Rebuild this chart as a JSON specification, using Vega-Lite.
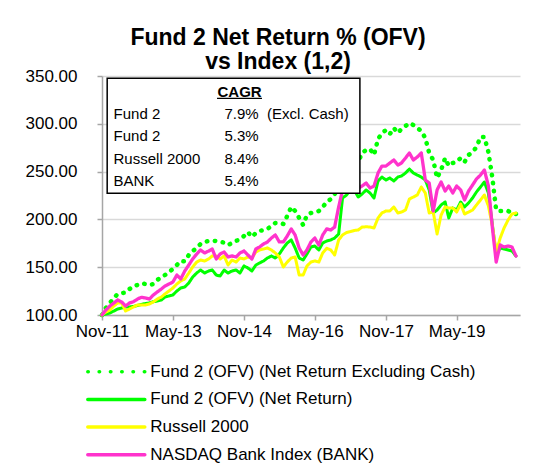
{
  "$schema": "https://vega.github.io/schema/vega-lite/v6.json",
  "width": 418,
  "height": 239,
  "autosize": {"type": "none"},
  "padding": {"left": 102, "top": 76, "right": 36, "bottom": 148},
  "background": "white",
  "title": {
    "text": ["Fund 2 Net Return % (OFV)", "vs Index (1,2)"],
    "anchor": "middle",
    "dx": -33,
    "offset": -7,
    "fontSize": 23,
    "fontWeight": "bold",
    "font": "Liberation Sans",
    "color": "black",
    "lineHeight": 24
  },
  "layer": [
    {
      "data": {
        "values": [
          {"d": "2011-11-01", "X": 100, "F": 100, "R": 100, "B": 100},
          {"d": "2011-12-01", "X": 107.3, "F": 101.0, "R": 103.1, "B": 105.2},
          {"d": "2012-01-01", "X": 112.6, "F": 102.1, "R": 105.2, "B": 109.4},
          {"d": "2012-02-01", "X": 117.8, "F": 104.2, "R": 109.4, "B": 112.6},
          {"d": "2012-03-01", "X": 122.0, "F": 106.3, "R": 112.6, "B": 115.7},
          {"d": "2012-04-01", "X": 123.0, "F": 107.3, "R": 112.6, "B": 113.6},
          {"d": "2012-05-01", "X": 123.3, "F": 108.4, "R": 104.2, "B": 109.4},
          {"d": "2012-06-01", "X": 127.2, "F": 108.4, "R": 106.3, "B": 112.6},
          {"d": "2012-07-01", "X": 130.3, "F": 108.9, "R": 108.4, "B": 113.9},
          {"d": "2012-08-01", "X": 131.4, "F": 109.9, "R": 110.5, "B": 116.7},
          {"d": "2012-09-01", "X": 133.2, "F": 111.0, "R": 110.5, "B": 118.5},
          {"d": "2012-10-01", "X": 132.4, "F": 112.0, "R": 110.5, "B": 117.8},
          {"d": "2012-11-01", "X": 131.4, "F": 112.6, "R": 111.5, "B": 116.7},
          {"d": "2012-12-01", "X": 132.4, "F": 113.9, "R": 113.6, "B": 120.9},
          {"d": "2013-01-01", "X": 136.6, "F": 114.6, "R": 116.7, "B": 124.1},
          {"d": "2013-02-01", "X": 139.7, "F": 115.7, "R": 118.8, "B": 127.2},
          {"d": "2013-03-01", "X": 141.8, "F": 118.8, "R": 122.0, "B": 130.3},
          {"d": "2013-04-01", "X": 145.0, "F": 119.9, "R": 125.1, "B": 132.4},
          {"d": "2013-05-01", "X": 148.1, "F": 120.9, "R": 128.2, "B": 134.5},
          {"d": "2013-06-01", "X": 152.3, "F": 125.1, "R": 132.4, "B": 141.8},
          {"d": "2013-07-01", "X": 156.5, "F": 128.2, "R": 135.6, "B": 137.7},
          {"d": "2013-08-01", "X": 156.0, "F": 129.3, "R": 137.7, "B": 146.0},
          {"d": "2013-09-01", "X": 162.8, "F": 133.5, "R": 143.9, "B": 152.3},
          {"d": "2013-10-01", "X": 166.9, "F": 139.7, "R": 150.2, "B": 158.6},
          {"d": "2013-11-01", "X": 170.1, "F": 143.9, "R": 155.4, "B": 163.8},
          {"d": "2013-12-01", "X": 174.3, "F": 147.1, "R": 157.5, "B": 168.0},
          {"d": "2014-01-01", "X": 176.4, "F": 143.9, "R": 156.5, "B": 164.9},
          {"d": "2014-02-01", "X": 177.4, "F": 146.0, "R": 158.6, "B": 166.9},
          {"d": "2014-03-01", "X": 177.7, "F": 147.1, "R": 161.7, "B": 169.0},
          {"d": "2014-04-01", "X": 177.4, "F": 141.8, "R": 161.7, "B": 158.6},
          {"d": "2014-05-01", "X": 176.4, "F": 140.8, "R": 158.6, "B": 163.8},
          {"d": "2014-06-01", "X": 175.8, "F": 147.1, "R": 161.7, "B": 165.9},
          {"d": "2014-07-01", "X": 173.2, "F": 143.9, "R": 152.3, "B": 160.7},
          {"d": "2014-08-01", "X": 175.3, "F": 146.0, "R": 157.5, "B": 161.7},
          {"d": "2014-09-01", "X": 177.4, "F": 147.1, "R": 155.4, "B": 160.7},
          {"d": "2014-10-01", "X": 179.5, "F": 143.9, "R": 159.6, "B": 164.9},
          {"d": "2014-11-01", "X": 182.6, "F": 151.3, "R": 158.6, "B": 166.9},
          {"d": "2014-12-01", "X": 186.8, "F": 149.2, "R": 160.7, "B": 162.8},
          {"d": "2015-01-01", "X": 181.6, "F": 146.0, "R": 159.6, "B": 158.6},
          {"d": "2015-02-01", "X": 185.8, "F": 152.3, "R": 165.9, "B": 169.0},
          {"d": "2015-03-01", "X": 187.9, "F": 154.4, "R": 168.0, "B": 171.1},
          {"d": "2015-04-01", "X": 188.9, "F": 156.5, "R": 169.0, "B": 174.3},
          {"d": "2015-05-01", "X": 190.0, "F": 159.6, "R": 170.1, "B": 176.4},
          {"d": "2015-06-01", "X": 193.1, "F": 161.7, "R": 168.0, "B": 180.5},
          {"d": "2015-07-01", "X": 196.2, "F": 159.6, "R": 164.9, "B": 183.7},
          {"d": "2015-08-01", "X": 196.2, "F": 163.8, "R": 160.7, "B": 176.4},
          {"d": "2015-09-01", "X": 195.2, "F": 170.1, "R": 150.2, "B": 176.4},
          {"d": "2015-10-01", "X": 203.6, "F": 175.3, "R": 155.4, "B": 182.6},
          {"d": "2015-11-01", "X": 213.0, "F": 178.5, "R": 159.6, "B": 190.0},
          {"d": "2015-12-01", "X": 208.8, "F": 170.1, "R": 160.7, "B": 183.7},
          {"d": "2016-01-01", "X": 201.5, "F": 159.6, "R": 141.8, "B": 170.1},
          {"d": "2016-02-01", "X": 194.1, "F": 157.5, "R": 141.8, "B": 162.8},
          {"d": "2016-03-01", "X": 204.6, "F": 163.8, "R": 151.3, "B": 168.0},
          {"d": "2016-04-01", "X": 206.7, "F": 171.1, "R": 155.4, "B": 176.4},
          {"d": "2016-05-01", "X": 207.7, "F": 172.2, "R": 156.5, "B": 180.5},
          {"d": "2016-06-01", "X": 208.8, "F": 168.0, "R": 155.4, "B": 173.2},
          {"d": "2016-07-01", "X": 213.0, "F": 175.3, "R": 164.9, "B": 183.7},
          {"d": "2016-08-01", "X": 218.2, "F": 177.4, "R": 169.8, "B": 190.0},
          {"d": "2016-09-01", "X": 221.3, "F": 178.5, "R": 168.0, "B": 188.9},
          {"d": "2016-10-01", "X": 226.6, "F": 180.5, "R": 162.8, "B": 192.0},
          {"d": "2016-11-01", "X": 231.8, "F": 184.7, "R": 178.5, "B": 213.0},
          {"d": "2016-12-01", "X": 255.9, "F": 222.4, "R": 183.7, "B": 230.8},
          {"d": "2017-01-01", "X": 259.0, "F": 225.5, "R": 186.3, "B": 232.8},
          {"d": "2017-02-01", "X": 265.3, "F": 231.8, "R": 187.3, "B": 234.9},
          {"d": "2017-03-01", "X": 264.2, "F": 230.8, "R": 188.4, "B": 238.1},
          {"d": "2017-04-01", "X": 260.0, "F": 223.4, "R": 188.9, "B": 232.8},
          {"d": "2017-05-01", "X": 269.5, "F": 226.6, "R": 192.0, "B": 234.9},
          {"d": "2017-06-01", "X": 272.6, "F": 230.8, "R": 192.3, "B": 238.1},
          {"d": "2017-07-01", "X": 273.6, "F": 227.6, "R": 192.0, "B": 232.8},
          {"d": "2017-08-01", "X": 267.4, "F": 222.4, "R": 191.0, "B": 234.9},
          {"d": "2017-09-01", "X": 284.1, "F": 240.2, "R": 201.5, "B": 248.5},
          {"d": "2017-10-01", "X": 290.1, "F": 244.3, "R": 206.7, "B": 255.8},
          {"d": "2017-11-01", "X": 293.5, "F": 241.2, "R": 208.8, "B": 255.8},
          {"d": "2017-12-01", "X": 289.3, "F": 243.3, "R": 208.8, "B": 259.0},
          {"d": "2018-01-01", "X": 295.6, "F": 240.2, "R": 213.0, "B": 262.1},
          {"d": "2018-02-01", "X": 290.4, "F": 244.3, "R": 206.7, "B": 256.9},
          {"d": "2018-03-01", "X": 294.6, "F": 245.4, "R": 207.7, "B": 259.0},
          {"d": "2018-04-01", "X": 297.7, "F": 248.5, "R": 209.8, "B": 264.2},
          {"d": "2018-05-01", "X": 300.8, "F": 252.7, "R": 221.3, "B": 269.5},
          {"d": "2018-06-01", "X": 298.7, "F": 248.5, "R": 223.4, "B": 262.1},
          {"d": "2018-07-01", "X": 295.6, "F": 246.4, "R": 225.5, "B": 265.3},
          {"d": "2018-08-01", "X": 292.5, "F": 244.3, "R": 233.9, "B": 269.5},
          {"d": "2018-09-01", "X": 285.1, "F": 241.2, "R": 227.6, "B": 241.2},
          {"d": "2018-10-01", "X": 269.5, "F": 230.8, "R": 206.7, "B": 238.1},
          {"d": "2018-11-01", "X": 262.1, "F": 206.7, "R": 207.7, "B": 208.8},
          {"d": "2018-12-01", "X": 243.3, "F": 209.8, "R": 184.7, "B": 230.8},
          {"d": "2019-01-01", "X": 251.7, "F": 215.1, "R": 204.6, "B": 239.1},
          {"d": "2019-02-01", "X": 264.2, "F": 218.2, "R": 213.0, "B": 229.7},
          {"d": "2019-03-01", "X": 255.9, "F": 201.5, "R": 211.9, "B": 234.9},
          {"d": "2019-04-01", "X": 259.0, "F": 211.9, "R": 211.9, "B": 227.6},
          {"d": "2019-05-01", "X": 260.0, "F": 209.8, "R": 207.7, "B": 234.9},
          {"d": "2019-06-01", "X": 264.2, "F": 218.2, "R": 216.1, "B": 230.8},
          {"d": "2019-07-01", "X": 260.0, "F": 213.0, "R": 205.6, "B": 220.3},
          {"d": "2019-08-01", "X": 267.4, "F": 217.2, "R": 207.7, "B": 229.7},
          {"d": "2019-09-01", "X": 270.5, "F": 222.4, "R": 209.8, "B": 236.0},
          {"d": "2019-10-01", "X": 275.7, "F": 228.7, "R": 215.1, "B": 242.3},
          {"d": "2019-11-01", "X": 286.2, "F": 233.9, "R": 220.3, "B": 246.4},
          {"d": "2019-12-01", "X": 286.2, "F": 239.1, "R": 225.5, "B": 251.7},
          {"d": "2020-01-01", "X": 270.5, "F": 227.6, "R": 214.0, "B": 235.0},
          {"d": "2020-02-01", "X": 243.3, "F": 194.1, "R": 193.1, "B": 191.0},
          {"d": "2020-03-01", "X": 209.8, "F": 162.8, "R": 165.9, "B": 155.4},
          {"d": "2020-04-01", "X": 208.8, "F": 170.1, "R": 180.5, "B": 173.2},
          {"d": "2020-05-01", "X": 208.8, "F": 169.0, "R": 191.0, "B": 171.1},
          {"d": "2020-06-01", "X": 208.8, "F": 168.0, "R": 199.4, "B": 172.2},
          {"d": "2020-07-01", "X": 206.7, "F": 166.9, "R": 205.6, "B": 171.1},
          {"d": "2020-08-01", "X": 205.6, "F": 161.7, "R": 206.7, "B": 161.7}
        ]
      },
      "transform": [{"fold": ["X", "F", "R", "B"], "as": ["s", "v"]}],
      "mark": {"type": "line", "strokeCap": "round", "strokeJoin": "round"},
      "encoding": {
        "x": {
          "field": "d",
          "type": "temporal",
          "scale": {
            "type": "utc",
            "domain": [
              {"year": 2011, "month": 11, "date": 1, "utc": true},
              {"year": 2020, "month": 9, "date": 1, "utc": true}
            ]
          },
          "axis": {
            "title": null,
            "values": [
              {"year": 2011, "month": 11, "date": 1, "utc": true},
              {"year": 2013, "month": 5, "date": 1, "utc": true},
              {"year": 2014, "month": 11, "date": 1, "utc": true},
              {"year": 2016, "month": 5, "date": 1, "utc": true},
              {"year": 2017, "month": 11, "date": 1, "utc": true},
              {"year": 2019, "month": 5, "date": 1, "utc": true}
            ],
            "labelExpr": "utcFormat(datum.value, '%b-%y')",
            "grid": false,
            "domainColor": "#a6a6a6",
            "domainWidth": 1.5,
            "tickColor": "#a6a6a6",
            "tickWidth": 1.5,
            "tickSize": 5,
            "labelPadding": 3,
            "labelFontSize": 17,
            "labelColor": "black",
            "labelFont": "Liberation Sans",
            "labelFlush": false,
            "labelOverlap": false
          }
        },
        "y": {
          "field": "v",
          "type": "quantitative",
          "scale": {"domain": [100, 350], "nice": false, "zero": false},
          "axis": {
            "title": null,
            "values": [100, 150, 200, 250, 300, 350],
            "format": ".2f",
            "grid": true,
            "gridColor": "#d9d9d9",
            "gridWidth": 1.5,
            "domainColor": "#a6a6a6",
            "domainWidth": 1.5,
            "tickColor": "#a6a6a6",
            "tickWidth": 1.5,
            "tickSize": 5,
            "labelPadding": 20,
            "labelFontSize": 17,
            "labelColor": "black",
            "labelFont": "Liberation Sans"
          }
        },
        "color": {
          "field": "s",
          "type": "nominal",
          "scale": {
            "domain": ["X", "F", "R", "B"],
            "range": ["#00ff00", "#00ff00", "#ffff00", "#ff33cc"]
          },
          "legend": {
            "title": null,
            "orient": "none",
            "legendX": 5.8,
            "legendY": 287.2,
            "padding": 0,
            "symbolType": "M-5,0H5",
            "symbolSize": 130,
            "symbolStrokeWidth": 3.5,
            "symbolFillColor": "transparent",
            "labelOffset": 25.5,
            "labelFontSize": 17,
            "labelFont": "Liberation Sans",
            "labelColor": "black",
            "labelLimit": 0,
            "rowPadding": 9.7,
            "labelExpr": "datum.label == 'X' ? 'Fund 2 (OFV) (Net Return Excluding Cash)' : datum.label == 'F' ? 'Fund 2 (OFV) (Net Return)' : datum.label == 'R' ? 'Russell 2000' : 'NASDAQ Bank Index (BANK)'",
            "encode": {
              "symbols": {
                "update": {
                  "strokeCap": {"value": "round"},
                  "strokeDash": [
                    {"test": "datum.value === 'X'", "value": [0.5, 10.8]},
                    {"value": [1, 0]}
                  ]
                }
              }
            }
          }
        },
        "strokeDash": {
          "condition": {"test": "datum.s === 'X'", "value": [0.5, 7.5]},
          "value": [1, 0]
        },
        "strokeWidth": {
          "condition": [
            {"test": "datum.s === 'X'", "value": 4.5},
            {"test": "datum.s === 'B'", "value": 3.3}
          ],
          "value": 3
        }
      }
    },
    {
      "layer": [
        {
          "data": {"values": [{}]},
          "mark": {"type": "rect", "fill": "white", "stroke": "black", "strokeWidth": 1.5},
          "encoding": {
            "x": {"datum": {"year": 2011, "month": 12, "date": 11, "utc": true}, "type": "temporal"},
            "x2": {"datum": {"year": 2017, "month": 4, "date": 14, "utc": true}},
            "y": {
              "datum": -0.6,
              "type": "quantitative",
              "scale": {"domain": [-0.7, 10], "reverse": true, "nice": false, "zero": false},
              "axis": null
            },
            "y2": {"datum": 4.55}
          }
        },
        {
          "data": {"values": [{"h": "CAGR", "row": 0}]},
          "mark": {"type": "text", "align": "center", "baseline": "middle", "fontSize": 15, "fontWeight": "bold", "font": "Liberation Sans", "color": "black"},
          "encoding": {
            "x": {"datum": {"year": 2014, "month": 9, "date": 28, "utc": true}, "type": "temporal"},
            "y": {
              "field": "row",
              "type": "quantitative",
              "scale": {"domain": [-0.7, 10], "reverse": true, "nice": false, "zero": false},
              "axis": null
            },
            "text": {"field": "h"}
          }
        },
        {
          "data": {"values": [{}]},
          "mark": {"type": "rule", "color": "black", "strokeWidth": 1.3},
          "encoding": {
            "x": {"datum": {"year": 2014, "month": 4, "date": 7, "utc": true}, "type": "temporal"},
            "x2": {"datum": {"year": 2015, "month": 3, "date": 20, "utc": true}},
            "y": {
              "datum": 0.3,
              "type": "quantitative",
              "scale": {"domain": [-0.7, 10], "reverse": true, "nice": false, "zero": false},
              "axis": null
            }
          }
        },
        {
          "data": {
            "values": [
              {"row": 1, "n": "Fund 2", "c": "7.9%", "e": "(Excl. Cash)"},
              {"row": 2, "n": "Fund 2", "c": "5.3%", "e": ""},
              {"row": 3, "n": "Russell 2000", "c": "8.4%", "e": ""},
              {"row": 4, "n": "BANK", "c": "5.4%", "e": ""}
            ]
          },
          "layer": [
            {
              "mark": {"type": "text", "align": "left", "baseline": "middle", "fontSize": 15, "font": "Liberation Sans", "color": "black"},
              "encoding": {
                "x": {"datum": {"year": 2012, "month": 1, "date": 29, "utc": true}, "type": "temporal"},
                "y": {
                  "field": "row",
                  "type": "quantitative",
                  "scale": {"domain": [-0.7, 10], "reverse": true, "nice": false, "zero": false},
                  "axis": null
                },
                "text": {"field": "n"}
              }
            },
            {
              "mark": {"type": "text", "align": "left", "baseline": "middle", "fontSize": 15, "font": "Liberation Sans", "color": "black"},
              "encoding": {
                "x": {"datum": {"year": 2014, "month": 6, "date": 3, "utc": true}, "type": "temporal"},
                "y": {
                  "field": "row",
                  "type": "quantitative",
                  "scale": {"domain": [-0.7, 10], "reverse": true, "nice": false, "zero": false},
                  "axis": null
                },
                "text": {"field": "c"}
              }
            },
            {
              "mark": {"type": "text", "align": "left", "baseline": "middle", "fontSize": 15, "font": "Liberation Sans", "color": "black"},
              "encoding": {
                "x": {"datum": {"year": 2015, "month": 4, "date": 28, "utc": true}, "type": "temporal"},
                "y": {
                  "field": "row",
                  "type": "quantitative",
                  "scale": {"domain": [-0.7, 10], "reverse": true, "nice": false, "zero": false},
                  "axis": null
                },
                "text": {"field": "e"}
              }
            }
          ]
        }
      ]
    }
  ],
  "resolve": {"scale": {"y": "independent"}},
  "config": {
    "font": "Liberation Sans",
    "view": {"stroke": null}
  }
}
